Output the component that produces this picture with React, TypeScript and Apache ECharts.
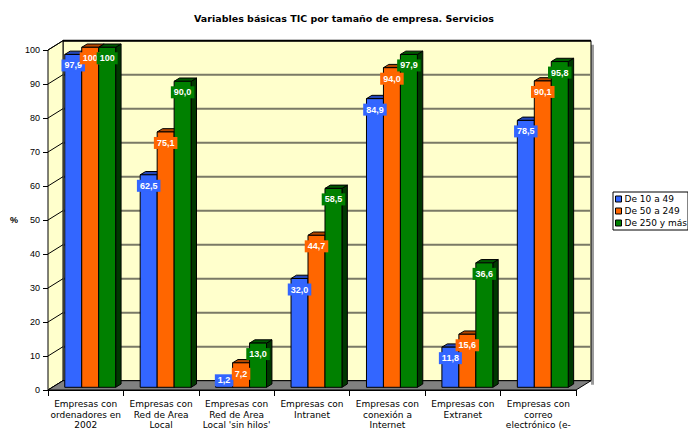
import React, { useEffect, useRef } from "react";
import * as echarts from "echarts";

const categories = [
  "Empresas con\nordenadores en\n2002",
  "Empresas con\nRed de Area\nLocal",
  "Empresas con\nRed de Area\nLocal 'sin hilos'",
  "Empresas con\nIntranet",
  "Empresas con\nconexión a\nInternet",
  "Empresas con\nExtranet",
  "Empresas con\ncorreo\nelectrónico (e-",
];
const seriesNames = ["De 10 a 49", "De 50 a 249", "De 250 y más"];
const small = [97.9, 62.5, 1.2, 32.0, 84.9, 11.8, 78.5];
const medium = [100, 75.1, 7.2, 44.7, 94.0, 15.6, 90.1];
const large = [100, 90.0, 13.0, 58.5, 97.9, 36.6, 95.8];
const yTicks = [0, 10, 20, 30, 40, 50, 60, 70, 80, 90, 100];

const FONT = '"Liberation Sans", Arial, sans-serif';
const WIDE = '"DejaVu Sans", sans-serif';
const palette = [
  { front: "#3366FF", top: "#2447B8", side: "#1A3380" },
  { front: "#FF6600", top: "#B34700", side: "#8C3800" },
  { front: "#008000", top: "#005800", side: "#003800" },
];
const WALL_DX = 15;
const WALL_DY = -9.3;
const BAR_SHIFT_X = 4.5;
const BAR_SHIFT_Y = -2.7;
const BAR_DX = 5.4;
const BAR_DY = -3.3;
const BAR_FRAC = 0.225;

function fmt(v: number) {
  return v === 100 ? "100" : v.toFixed(1).replace(".", ",");
}

function barGeom(api: any, sIdx: number) {
  const ci = api.value(0);
  const v = api.value(1);
  const base = api.coord([ci, 0]);
  const topP = api.coord([ci, v]);
  const catW = api.size([1, 0])[0];
  const bw = catW * BAR_FRAC;
  const x0 = base[0] - 1.5 * bw + sIdx * bw + BAR_SHIFT_X;
  const x1 = x0 + bw;
  const yb = base[1] + BAR_SHIFT_Y;
  const yt = topP[1] + BAR_SHIFT_Y;
  return { x0, x1, yb, yt, bw, v };
}

function barSeries(name: string, values: number[], sIdx: number) {
  const c = palette[sIdx];
  return {
    type: "custom",
    name,
    coordinateSystem: "cartesian2d",
    clip: false,
    z: 3 + sIdx,
    itemStyle: { color: c.front },
    encode: { x: 0, y: 1 },
    data: values.map((v, i) => [i, v]),
    renderItem: (params: any, api: any) => {
      const g = barGeom(api, sIdx);
      const stroke = { stroke: "#000", lineWidth: 1 };
      return {
        type: "group",
        children: [
          {
            type: "polygon",
            shape: {
              points: [
                [g.x1, g.yt],
                [g.x1 + BAR_DX, g.yt + BAR_DY],
                [g.x1 + BAR_DX, g.yb + BAR_DY],
                [g.x1, g.yb],
              ],
            },
            style: { fill: c.side, ...stroke },
          },
          {
            type: "polygon",
            shape: {
              points: [
                [g.x0, g.yt],
                [g.x0 + BAR_DX, g.yt + BAR_DY],
                [g.x1 + BAR_DX, g.yt + BAR_DY],
                [g.x1, g.yt],
              ],
            },
            style: { fill: c.top, ...stroke },
          },
          {
            type: "rect",
            shape: { x: g.x0, y: g.yt, width: g.bw, height: g.yb - g.yt },
            style: { fill: c.front, ...stroke },
          },
        ],
      };
    },
  };
}

function labelSeries(values: number[], sIdx: number) {
  const c = palette[sIdx];
  return {
    type: "custom",
    name: "lbl" + sIdx,
    coordinateSystem: "cartesian2d",
    clip: false,
    z: 20,
    silent: true,
    encode: { x: 0, y: 1 },
    data: values.map((v, i) => [i, v]),
    renderItem: (params: any, api: any) => {
      const g = barGeom(api, sIdx);
      const cx = g.x0 + g.bw / 2;
      const cy = Math.min(g.yt + 11, g.yb - 7);
      return {
        type: "text",
        x: cx,
        y: cy,
        style: {
          text: fmt(g.v),
          fill: "#fff",
          fontSize: 9,
          fontWeight: "bold",
          fontFamily: FONT,
          align: "center",
          verticalAlign: "middle",
          backgroundColor: c.front,
          padding: [2, 3, 1, 3],
        },
      };
    },
  };
}

const wallSeries = {
  type: "custom",
  name: "walls",
  coordinateSystem: "cartesian2d",
  clip: false,
  z: 1,
  silent: true,
  encode: { x: 0, y: 1 },
  data: [[0, 0]],
  renderItem: (params: any, api: any) => {
    const cs = params.coordSys;
    const L = cs.x;
    const R = cs.x + cs.width;
    const B = cs.y + cs.height;
    const T = cs.y;
    const children: any[] = [];
    children.push({
      type: "rect",
      shape: { x: R + WALL_DX, y: T + WALL_DY + 4, width: 3, height: B - T },
      style: { fill: "#9a9a9a" },
    });
    children.push({
      type: "rect",
      shape: { x: L + WALL_DX, y: T + WALL_DY, width: R - L, height: B - T },
      style: { fill: "#FFFFCC", stroke: "#000", lineWidth: 1 },
    });
    yTicks.forEach((t) => {
      if (t === 0) return;
      const y = api.coord([0, t])[1] + WALL_DY;
      children.push({
        type: "line",
        shape: { x1: L + WALL_DX, y1: y, x2: R + WALL_DX, y2: y },
        style: { stroke: t === 100 ? "#000" : "#7a7a66", lineWidth: 2 },
      });
    });
    children.push({
      type: "polygon",
      shape: {
        points: [
          [L, B],
          [L, T],
          [L + WALL_DX, T + WALL_DY],
          [L + WALL_DX, B + WALL_DY],
        ],
      },
      style: { fill: "#FFFFCC", stroke: "#000", lineWidth: 1 },
    });
    yTicks.forEach((t) => {
      const y = api.coord([0, t])[1];
      children.push({
        type: "line",
        shape: { x1: L, y1: y, x2: L + WALL_DX, y2: y + WALL_DY },
        style: { stroke: "#000", lineWidth: 1 },
      });
    });
    children.push({
      type: "polygon",
      shape: {
        points: [
          [L, B],
          [L + WALL_DX, B + WALL_DY],
          [R + WALL_DX, B + WALL_DY],
          [R, B],
        ],
      },
      style: { fill: "#808080", stroke: "#000", lineWidth: 1 },
    });
    return { type: "group", children };
  },
};

export default function App() {
  const ref = useRef<HTMLDivElement>(null);
  useEffect(() => {
    document.body.style.margin = "0";
    const chart = echarts.init(ref.current!, null, { renderer: "svg" });
    const values = [small, medium, large];
    chart.setOption({
      animation: false,
      backgroundColor: "#fff",
      textStyle: { fontFamily: FONT },
      title: {
        text: "Variables básicas TIC por tamaño de empresa. Servicios",
        left: "center",
        top: 8,
        textStyle: { fontSize: 9.5, fontWeight: "bold", color: "#000", fontFamily: WIDE },
      },
      legend: {
        data: seriesNames,
        left: 613,
        top: 192,
        orient: "vertical",
        icon: "rect",
        itemWidth: 6,
        itemHeight: 6,
        itemGap: 2,
        borderColor: "#000",
        borderWidth: 1,
        padding: [2, 1, 2, 2],
        itemStyle: { borderColor: "#000", borderWidth: 1 },
        textStyle: { fontSize: 9, color: "#000", fontFamily: WIDE, lineHeight: 10, padding: [0, 0, 0, -2] },
        selectedMode: false,
      },
      grid: { left: 48, right: 112, top: 50, bottom: 42, containLabel: false },
      xAxis: {
        type: "category",
        data: categories,
        axisLine: { show: true, lineStyle: { color: "#000", width: 1 } },
        axisTick: { show: true, length: 6, lineStyle: { color: "#000" } },
        axisLabel: {
          interval: 0,
          fontSize: 9,
          lineHeight: 10.5,
          color: "#000",
          margin: 9,
          fontFamily: WIDE,
        },
        splitLine: { show: false },
      },
      yAxis: {
        type: "value",
        min: 0,
        max: 100,
        interval: 10,
        name: "%",
        nameLocation: "middle",
        nameGap: 30,
        nameRotate: 0,
        nameTextStyle: { fontSize: 9, fontWeight: "bold", color: "#000", fontFamily: FONT },
        axisLine: { show: true, lineStyle: { color: "#000", width: 1 } },
        axisTick: { show: true, length: 5, lineStyle: { color: "#000" } },
        axisLabel: { fontSize: 9, color: "#000", margin: 8, fontFamily: FONT },
        splitLine: { show: false },
      },
      series: [
        wallSeries,
        ...seriesNames.map((n, i) => barSeries(n, values[i], i)),
        ...seriesNames.map((n, i) => labelSeries(values[i], i)),
      ],
    });
    return () => chart.dispose();
  }, []);
  return <div ref={ref} style={{ width: 688, height: 432 }} />;
}
